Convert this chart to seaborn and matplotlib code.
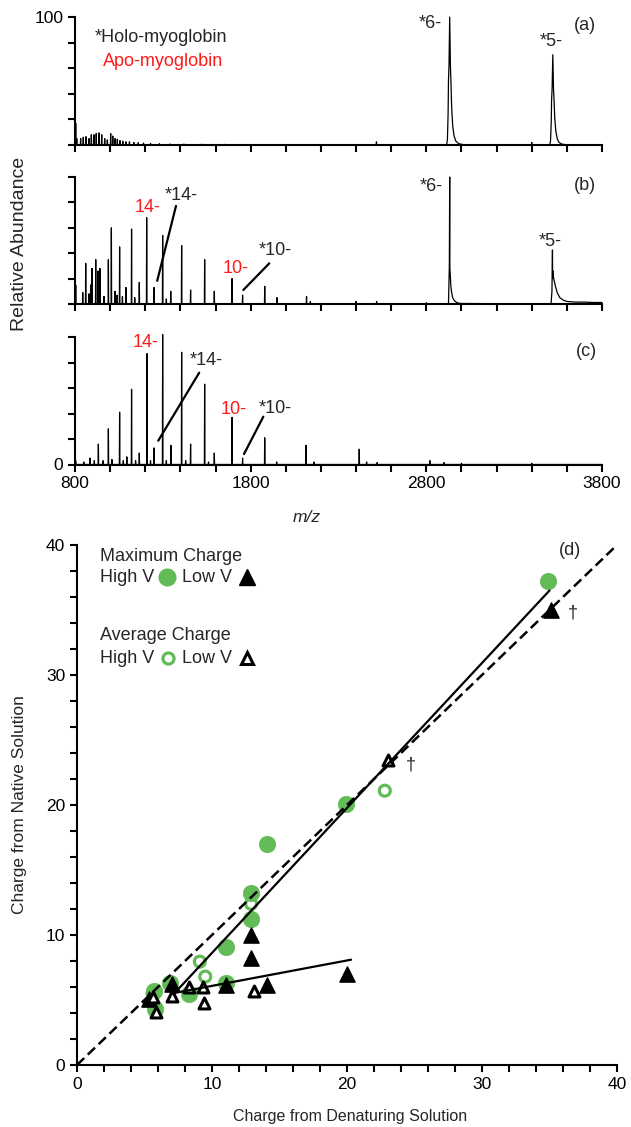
import numpy as np
import pandas as pd
import matplotlib
matplotlib.use("Agg")
import matplotlib.pyplot as plt
import seaborn as sns

# ---------------- data: mass spectra (peak centres m/z, relative abundance) ----------------
a_peak_mz = [804, 810, 832, 847, 863, 880, 893, 908, 921, 937, 952, 969, 984, 1003, 1015,
             1028, 1041, 1056, 1072, 1090, 1110, 1135, 1160, 1190, 1230, 1280, 1340, 1420,
             1520, 1650, 2516, 3400]
a_peak_int = [17, 5, 5, 6, 6.5, 5, 8, 8, 9, 9.5, 8, 5, 4, 9, 7,
              5, 4.5, 3.5, 3, 2.5, 2.5, 2, 1.8, 1.5, 1.2, 1, 0.8, 0.7,
              0.6, 0.5, 2.5, 2]
a_holo6_mz = [2915, 2920, 2924, 2926, 2929, 2931, 2933, 2935, 2937, 2940, 2944, 2950, 2958, 2968, 2985, 3010]
a_holo6_int = [0, 4, 25, 50, 62, 80, 100, 80, 62, 50, 30, 15, 7, 3, 1, 0.3]
a_holo5_mz = [3502, 3507, 3511, 3513, 3516, 3518, 3520, 3522, 3524, 3527, 3531, 3537, 3545, 3555, 3572, 3597]
a_holo5_int = [0, 3, 18, 35, 44, 56, 70.5, 56, 44, 35, 21, 11, 5, 2, 0.7, 0.2]

b_peak_mz = [804, 844, 861, 880, 889, 897, 918, 931, 942, 965, 990, 1007, 1028, 1040, 1054, 1070,
             1090, 1122, 1140, 1166, 1208, 1250, 1299, 1320, 1345, 1407, 1458, 1538, 1593, 1694,
             1754, 1880, 1950, 2118, 2140, 2400, 2517, 2800]
b_peak_int = [15, 9, 32, 8, 15, 28, 35, 26, 28, 6, 35, 60, 10, 7, 45, 6,
              13, 59, 5, 17, 68, 13, 54, 4, 10, 46, 11, 35, 10, 20,
              7, 14, 5, 6, 2, 2, 2, 1]
b_holo6_mz = [2926, 2931, 2933, 2934, 2936, 2939, 2944, 2950, 2960, 2975, 2995]
b_holo6_int = [0, 30, 100, 28, 24, 15, 9, 5, 2.5, 1, 0.4]
b_holo5_mz = [3510, 3515, 3518, 3519, 3521, 3524, 3528, 3535, 3545, 3560, 3580, 3600, 3650, 3700, 3750, 3800]
b_holo5_int = [0, 10, 42.5, 20, 26, 21, 18, 14, 9, 5, 3, 2, 1.5, 1.5, 1.2, 1.2]

c_peak_mz = [804, 850, 885, 910, 933, 960, 990, 1010, 1054, 1075, 1095, 1122, 1145, 1166, 1210,
             1230, 1250, 1299, 1320, 1346, 1407, 1430, 1458, 1538, 1560, 1593, 1694, 1754, 1880,
             1948, 2115, 2160, 2418, 2460, 2520, 2820, 2900, 3000, 3400]
c_peak_int = [3, 2, 5, 3, 16, 3, 28, 4, 41, 3, 6, 59, 3, 9, 87,
              3, 13, 102, 3, 15, 88, 3, 16, 63, 2, 9, 37, 5, 21,
              2, 15, 2, 12, 2, 1.5, 3, 1.5, 1, 1]

# ---------------- data: charge comparison (panel d) ----------------
max_hv_x = [34.9, 19.9, 14.1, 12.9, 12.9, 11.0, 8.3, 11.0, 6.9, 5.7, 5.8]
max_hv_y = [37.2, 20.1, 17.0, 13.2, 11.2, 9.1, 5.5, 6.3, 6.3, 5.7, 4.3]
avg_hv_x = [22.8, 12.9, 9.1, 9.5, 5.6]
avg_hv_y = [21.1, 12.4, 7.95, 6.8, 5.5]
max_lv_x = [35.1, 12.9, 12.9, 20.0, 14.1, 11.0, 7.0, 5.3]
max_lv_y = [35.0, 10.0, 8.2, 7.0, 6.15, 6.15, 6.2, 5.1]
avg_lv_x = [23.0, 13.1, 9.4, 9.3, 8.3, 7.0, 5.85, 5.6]
avg_lv_y = [23.5, 5.7, 4.75, 6.0, 6.0, 5.3, 4.05, 5.25]
fit_steep_x = [7.2, 35.0]
fit_steep_y = [5.5, 36.5]
fit_flat_x = [7.0, 20.3]
fit_flat_y = [5.5, 8.1]
identity_x = [0, 40]
identity_y = [0, 40]

mz_ticks = list(range(800, 3801, 200))
mz_ticklabels = ["800", "1800", "2800", "3800"]
ab_ticks = [0, 20, 40, 60, 80, 100]
ch_ticks = list(range(0, 41, 2))
ch_ticklabels = ["0", "10", "20", "30", "40"]

GREEN = "#62bb56"
RED = "#ff1a1a"

sns.set_theme(style="ticks")
plt.rcParams["font.family"] = ["Liberation Sans", "DejaVu Sans"]
plt.rcParams["axes.linewidth"] = 1.5
plt.rcParams["xtick.major.width"] = 1.5
plt.rcParams["ytick.major.width"] = 1.5
plt.rcParams["xtick.major.size"] = 5
plt.rcParams["ytick.major.size"] = 5
plt.rcParams["xtick.labelsize"] = 12.5
plt.rcParams["ytick.labelsize"] = 12.5
plt.rcParams["xtick.color"] = "black"
plt.rcParams["ytick.color"] = "black"
plt.rcParams["axes.edgecolor"] = "black"


def build_trace(peak_mz, peak_int, profiles):
    segs = []
    for m, h in zip(peak_mz, peak_int):
        segs.append([(m - 1.5, 0.0), (m, h), (m + 1.5, 0.0)])
    for pm, pi in profiles:
        segs.append(list(zip(pm, pi)))
    segs.sort(key=lambda s: s[0][0])
    pts = [(800.0, 0.0)]
    for s in segs:
        pts.extend(s)
    if pts[-1][0] < 3800:
        pts.append((3800.0, 0.0))
    return pd.DataFrame(pts, columns=["mz", "intensity"])


W, H = 631, 1127
fig = plt.figure(figsize=(W / 100, H / 100), dpi=100)

ax_a = fig.add_axes([75 / W, 1 - 145 / H, 527 / W, 128 / H])
ax_b = fig.add_axes([75 / W, 1 - 304 / H, 527 / W, 127 / H])
ax_c = fig.add_axes([75 / W, 1 - 464.5 / H, 527 / W, 127.5 / H])
ax_d = fig.add_axes([77 / W, 1 - 1065 / H, 540 / W, 520 / H])

traces = [
    (ax_a, build_trace(a_peak_mz, a_peak_int, [(a_holo6_mz, a_holo6_int), (a_holo5_mz, a_holo5_int)])),
    (ax_b, build_trace(b_peak_mz, b_peak_int, [(b_holo6_mz, b_holo6_int), (b_holo5_mz, b_holo5_int)])),
    (ax_c, build_trace(c_peak_mz, c_peak_int, [])),
]
for ax, df in traces:
    sns.lineplot(data=df, x="mz", y="intensity", sort=False, estimator=None,
                 color="black", lw=0.9, ax=ax, clip_on=False)
    ax.set_xlim(800, 3800)
    ax.set_ylim(0, 100)
    sns.despine(ax=ax)
    ax.set_xlabel("")
    ax.set_ylabel("")
    ax.set_xticks(mz_ticks)
    ax.set_yticks(ab_ticks)
    ax.tick_params(direction="out")

ax_a.set_xticklabels([])
ax_b.set_xticklabels([])
ax_c.set_xticklabels([t if str(t) in mz_ticklabels else "" for t in mz_ticks])
ax_a.set_yticklabels(["" if t != 100 else "100" for t in ab_ticks])
ax_b.set_yticklabels([])
ax_c.set_yticklabels(["0" if t == 0 else "" for t in ab_ticks])

FS = 13
# panel (a) annotations
ax_a.text(914, 83.6, "*Holo-myoglobin", fontsize=FS, va="center", ha="left")
ax_a.text(961, 65, "Apo-myoglobin", fontsize=FS, va="center", ha="left", color=RED)
ax_a.text(3703, 93.7, "(a)", fontsize=FS, va="center", ha="center")
ax_a.text(2890, 95, "*6-", fontsize=FS, va="center", ha="right")
ax_a.text(3513, 80.7, "*5-", fontsize=FS, va="center", ha="center")

# panel (b)
ax_b.text(3703, 93.7, "(b)", fontsize=FS, va="center", ha="center")
ax_b.text(2895, 92.4, "*6-", fontsize=FS, va="center", ha="right")
ax_b.text(3503, 49.6, "*5-", fontsize=FS, va="center", ha="center")
ax_b.text(1212, 76, "14-", fontsize=FS, va="center", ha="center", color=RED)
ax_b.text(1407, 85.8, "*14-", fontsize=FS, va="center", ha="center")
ax_b.plot([1268, 1375], [18.3, 77.2], color="black", lw=1.6)
ax_b.text(1715, 28.1, "10-", fontsize=FS, va="center", ha="center", color=RED)
ax_b.text(1938, 42.5, "*10-", fontsize=FS, va="center", ha="center")
ax_b.plot([1758, 1906], [11, 32], color="black", lw=1.6)

# panel (c)
ax_c.text(3712, 88.5, "(c)", fontsize=FS, va="center", ha="center")
ax_c.text(1204, 95.5, "14-", fontsize=FS, va="center", ha="center", color=RED)
ax_c.text(1546, 81.4, "*14-", fontsize=FS, va="center", ha="center")
ax_c.plot([1274, 1507], [18.7, 72], color="black", lw=1.6)
ax_c.text(1701, 43.5, "10-", fontsize=FS, va="center", ha="center", color=RED)
ax_c.text(1938, 44, "*10-", fontsize=FS, va="center", ha="center")
ax_c.plot([1762, 1872], [8.2, 37.5], color="black", lw=1.6)

fig.text(20 / W, 1 - 244 / H, "Relative Abundance", rotation=90, fontsize=14,
         va="center", ha="center")
fig.text(307 / W, 1 - 518 / H, "m/z", style="italic", fontsize=12.5, va="center", ha="center")

# ---------------- panel (d) ----------------
sns.scatterplot(x=max_hv_x, y=max_hv_y, marker="o", s=140, color=GREEN, edgecolor=GREEN,
                linewidth=0.5, ax=ax_d, zorder=2, clip_on=False)
sns.scatterplot(x=avg_hv_x, y=avg_hv_y, marker="o", s=62, color=GREEN, facecolor="none",
                edgecolor=GREEN, linewidth=2.3, ax=ax_d, zorder=2, clip_on=False)
sns.scatterplot(x=max_lv_x, y=max_lv_y, marker="^", s=120, color="black", edgecolor="black",
                linewidth=1.0, ax=ax_d, zorder=2, clip_on=False)
sns.scatterplot(x=avg_lv_x, y=avg_lv_y, marker="^", s=62, color="black", facecolor="white",
                edgecolor="black", linewidth=2.2, ax=ax_d, zorder=2, clip_on=False)

sns.lineplot(x=identity_x, y=identity_y, color="black", lw=1.8, ax=ax_d, zorder=3,
             linestyle=(0, (4, 2)), clip_on=False)
sns.lineplot(x=fit_steep_x, y=fit_steep_y, color="black", lw=1.6, ax=ax_d, zorder=3)
sns.lineplot(x=fit_flat_x, y=fit_flat_y, color="black", lw=1.6, ax=ax_d, zorder=3)

ax_d.set_xlim(0, 40)
ax_d.set_ylim(0, 40)
sns.despine(ax=ax_d)
ax_d.set_xticks(ch_ticks)
ax_d.set_yticks(ch_ticks)
ax_d.set_xticklabels([str(t) if str(t) in ch_ticklabels else "" for t in ch_ticks])
ax_d.set_yticklabels([str(t) if str(t) in ch_ticklabels else "" for t in ch_ticks])
ax_d.tick_params(direction="out")

# legend block drawn as text + marker glyphs
ax_d.text(1.7, 39.15, "Maximum Charge", fontsize=FS, va="center", ha="left")
ax_d.text(1.7, 37.5, "High V", fontsize=FS, va="center", ha="left")
ax_d.text(7.78, 37.5, "Low V", fontsize=FS, va="center", ha="left")
ax_d.plot([6.69], [37.5], marker="o", ms=12, color=GREEN, mec=GREEN)
ax_d.plot([12.57], [37.5], marker="^", ms=11, color="black")
ax_d.text(1.7, 33.0, "Average Charge", fontsize=FS, va="center", ha="left")
ax_d.text(1.7, 31.3, "High V", fontsize=FS, va="center", ha="left")
ax_d.text(7.78, 31.3, "Low V", fontsize=FS, va="center", ha="left")
ax_d.plot([6.75], [31.3], marker="o", ms=8, mfc="none", mec=GREEN, mew=2.3)
ax_d.plot([12.57], [31.3], marker="^", ms=8, mfc="white", mec="black", mew=2.2)

ax_d.text(36.5, 39.6, "(d)", fontsize=FS, va="center", ha="center")
ax_d.text(36.7, 34.8, "\u2020", fontsize=FS, va="center", ha="center")
ax_d.text(24.7, 23.1, "\u2020", fontsize=FS, va="center", ha="center")

fig.text(20 / W, 1 - 805 / H, "Charge from Native Solution", rotation=90, fontsize=12.5,
         va="center", ha="center")
fig.text(350 / W, 1 - 1117 / H, "Charge from Denaturing Solution", fontsize=11.5,
         va="center", ha="center")

fig.savefig("out.png", dpi=100)
